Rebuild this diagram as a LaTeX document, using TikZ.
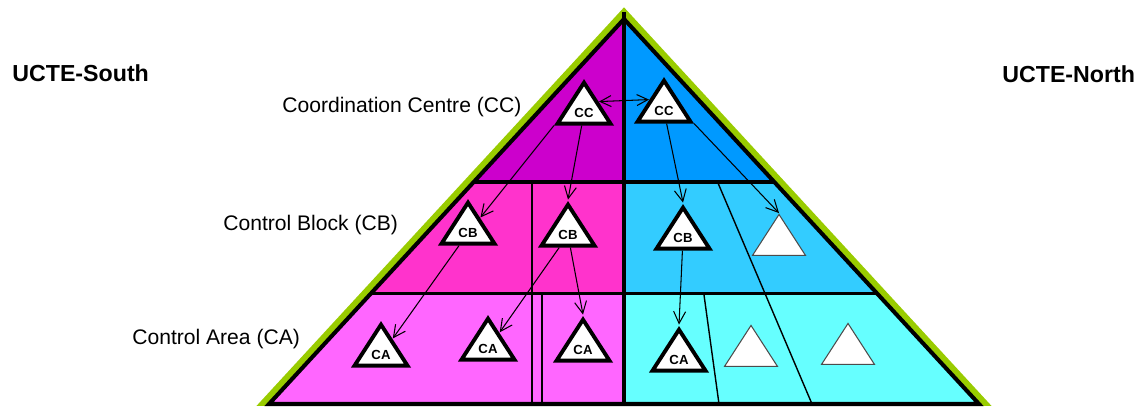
\documentclass[tikz,border=0pt]{standalone}
\usepackage{fontspec}
\setmainfont{Liberation Sans}
\usetikzlibrary{positioning,arrows.meta,calc,shapes.geometric}
\definecolor{cTopS}{HTML}{CC00CC}
\definecolor{cTopN}{HTML}{0099FF}
\definecolor{cMidS}{HTML}{FF33CC}
\definecolor{cMidN}{HTML}{33CCFF}
\definecolor{cLowS}{HTML}{FF66FF}
\definecolor{cLowN}{HTML}{66FFFF}
\definecolor{cRim}{HTML}{99CC00}
\begin{document}
\begin{tikzpicture}[
  x=0.02cm, y=-0.02cm,
  tier/.style={font=\fontsize{12}{14}\selectfont, inner sep=0pt, anchor=base west},
  side/.style={font=\bfseries\fontsize{13.2}{15}\selectfont, inner sep=0pt, anchor=base west},
  tri/.style={isosceles triangle, shape border rotate=90, isosceles triangle stretches,
              minimum width=1.06cm, minimum height=0.82cm, inner sep=0pt,
              fill=white, draw=black, line width=2.2pt, line join=miter,
              font=\bfseries\fontsize{7.5}{8}\selectfont},
  void/.style={tri, draw=black!70, line width=0.6pt},
  ar/.style={-{Straight Barb[length=2.4mm,width=2.4mm]}, line width=0.6pt},
  dbl/.style={{Straight Barb[length=2.2mm,width=2.2mm]}-{Straight Barb[length=2.2mm,width=2.2mm]}, line width=0.6pt},
  div/.style={line width=0.8pt},
]
\useasboundingbox (0,0) rectangle (1138,417);

% pyramid corners and tier borders
\coordinate (A)  at (624,19);
\coordinate (Top) at (624,12);
\coordinate (BL) at (269,404);
\coordinate (BR) at (979,404);
\coordinate (L1) at ($(A)!0.424!(BL)$);
\coordinate (R1) at ($(A)!0.424!(BR)$);
\coordinate (L2) at ($(A)!0.7135!(BL)$);
\coordinate (R2) at ($(A)!0.7135!(BR)$);
\coordinate (M1) at (L1 -| A);
\coordinate (M2) at (L2 -| A);
\coordinate (M3) at (BL -| A);

% green rim
\begin{scope}
  \clip (0,0) rectangle (1138,405);
  \draw[cRim, line width=9pt] ($(A)!1.05!(BL)$) -- (A) -- ($(A)!1.05!(BR)$);
\end{scope}

% tiers
\fill[cTopS] (A) -- (L1) -- (M1) -- cycle;
\fill[cTopN] (A) -- (M1) -- (R1) -- cycle;
\fill[cMidS] (L1) -- (M1) -- (M2) -- (L2) -- cycle;
\fill[cMidN] (M1) -- (R1) -- (R2) -- (M2) -- cycle;
\fill[cLowS] (L2) -- (M2) -- (M3) -- (BL) -- cycle;
\fill[cLowN] (M2) -- (R2) -- (BR) -- (M3) -- cycle;

% borders between areas
\draw[div] (532,183) -- (532,404);
\draw[div] (542,295) -- (542,404);
\draw[div] (718,183) -- (812,404);
\draw[div] (704,295) -- (719,404);

\draw[line width=2pt] (L1) -- (R1);
\draw[line width=2pt] (L2) -- (R2);
\draw[line width=2.3pt] (Top) -- (M3);
\draw[line width=2.3pt, line join=miter] (A) -- (BL) -- (BR) -- cycle;

% control centres, blocks and areas
\node[tri]  (ccS)  at (584,113) {CC};
\node[tri]  (ccN)  at (664,111) {CC};
\node[tri]  (cbS1) at (468,233) {CB};
\node[tri]  (cbS2) at (568,235) {CB};
\node[tri]  (cbN)  at (683,238) {CB};
\node[void] (eN1)  at (779,241) {};
\node[tri]  (caS1) at (381,355) {CA};
\node[tri]  (caS2) at (488,349) {CA};
\node[tri]  (caS3) at (583,350) {CA};
\node[tri]  (caN)  at (679,360) {CA};
\node[void] (eN2)  at (751,352) {};
\node[void] (eN3)  at (848,350) {};

\draw[dbl] (ccS.right side) -- (ccN.left side);
\draw[ar] (ccS.left corner) -- (cbS1);
\draw[ar] (ccS) -- (cbS2.apex);
\draw[ar] (ccN) -- (cbN.apex);
\draw[ar] (ccN.right corner) -- (eN1.apex);
\draw[ar] (cbS1) -- (caS1);
\draw[ar] (cbS2) -- (caS2);
\draw[ar] (cbS2) -- (caS3.apex);
\draw[ar] (cbN) -- (caN.apex);

% labels
\node[side] (south) at (12,81)   {UCTE-South};
\node[side] (north) at (1002,82) {UCTE-North};
\node[tier] (lvlCC) at (282,112) {Coordination Centre (CC)};
\node[tier] (lvlCB) at (223,230) {Control Block (CB)};
\node[tier] (lvlCA) at (132,344) {Control Area (CA)};
\end{tikzpicture}
\end{document}
